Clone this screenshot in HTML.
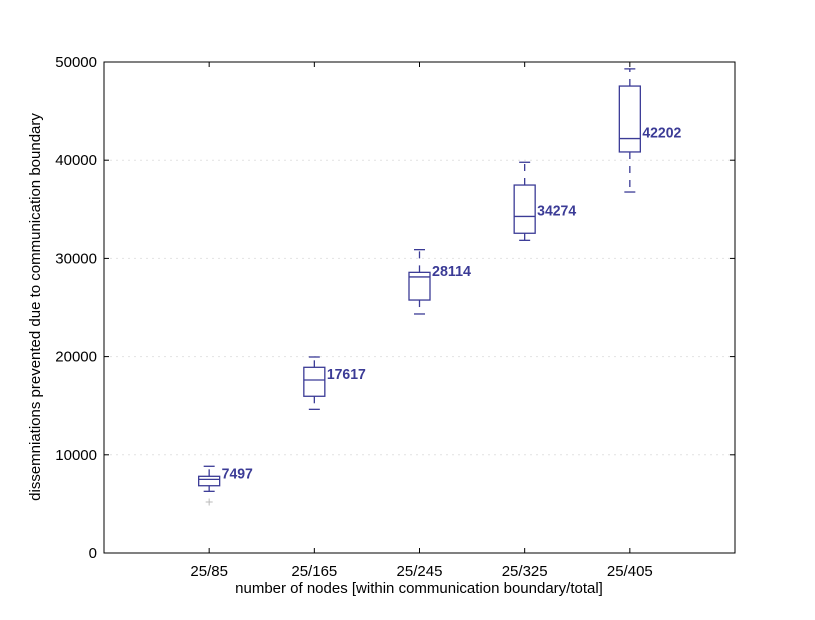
<!DOCTYPE html>
<html><head><meta charset="utf-8"><style>
body{margin:0;background:#fff}
svg text{font-family:"Liberation Sans",sans-serif}
</style></head><body>
<svg id="chart" width="815" height="615" xmlns="http://www.w3.org/2000/svg">
<rect width="815" height="615" fill="#fff"/>
<g id="grid"></g>
<g id="marks"></g>
<rect x="104" y="62" width="631" height="491" fill="none" stroke="#000" stroke-width="1"/>
<g id="axes"></g>
<text x="419" y="593" font-size="15" text-anchor="middle">number of nodes [within communication boundary/total]</text>
<text transform="translate(40,307) rotate(-90)" font-size="15" text-anchor="middle">dissemniations prevented due to communication boundary</text>
</svg>
<script>
const categories=["25/85","25/165","25/245","25/325","25/405"];
const whiskerLow=[6280,14630,24340,31840,36760];
const q1=[6850,15960,25760,32560,40840];
const medians=[7497,17617,28114,34274,42202];
const q3=[7810,18910,28580,37470,47550];
const whiskerHigh=[8830,19960,30890,39790,49300];
const fliers=[[5190],[],[],[],[]];
const yTicks=[0,10000,20000,30000,40000,50000];

const L=104,R=735,T=62,B=553,ymax=50000;
const C="#3b3b96";
const NS="http://www.w3.org/2000/svg";
function y(v){return B-(v/ymax)*(B-T);}
function x(i){return L+(R-L)/(categories.length+1)*(i+1);}
function mk(tag,attrs,parent){const e=document.createElementNS(NS,tag);for(const k in attrs)e.setAttribute(k,attrs[k]);document.getElementById(parent).appendChild(e);return e;}

yTicks.forEach(t=>{
  if(t>0&&t<ymax){
    const g=mk('line',{x1:L,x2:R,y1:y(t),y2:y(t),stroke:'#e2e2e2','stroke-dasharray':'2,4'},'grid');
    
    
  }
  const a=mk('line',{x1:L,x2:L+5,y1:y(t),y2:y(t),stroke:'#000'},'axes');
  
  
  const b=mk('line',{x1:R-5,x2:R,y1:y(t),y2:y(t),stroke:'#000'},'axes');
  
  
  const tx=mk('text',{x:L-7,y:y(t)+5,'font-size':15,'text-anchor':'end'},'axes');
  tx.textContent=t;
  
  
});
categories.forEach((c,i)=>{
  const cx=x(i);
  const a=mk('line',{x1:cx,x2:cx,y1:B,y2:B-5,stroke:'#000'},'axes');
  
  
  const b=mk('line',{x1:cx,x2:cx,y1:T,y2:T+5,stroke:'#000'},'axes');
  
  
  const tx=mk('text',{x:cx,y:B+23,'font-size':15,'text-anchor':'middle'},'axes');
  tx.textContent=c;
  
  

  const hw=10.5;
  const box=mk('rect',{x:cx-hw,y:y(q3[i]),width:2*hw,height:y(q1[i])-y(q3[i]),fill:'none',stroke:C,'stroke-width':1.3},'marks');
  
  
  const m=mk('line',{x1:cx-hw,x2:cx+hw,y1:y(medians[i]),y2:y(medians[i]),stroke:C,'stroke-width':1.3},'marks');
  
  
  const w1=mk('line',{x1:cx,x2:cx,y1:y(q3[i]),y2:y(whiskerHigh[i]),stroke:C,'stroke-width':1.3,'stroke-dasharray':'7,7'},'marks');
  
  
  const w2=mk('line',{x1:cx,x2:cx,y1:y(q1[i]),y2:y(whiskerLow[i]),stroke:C,'stroke-width':1.3,'stroke-dasharray':'7,7'},'marks');
  
  
  [whiskerHigh[i],whiskerLow[i]].forEach(v=>{
    const cap=mk('line',{x1:cx-5.5,x2:cx+5.5,y1:y(v),y2:y(v),stroke:C,'stroke-width':1.3},'marks');
    
    
  });
  fliers[i].forEach(v=>{
    const f=mk('path',{d:`M${cx-3.5},${y(v)}h7M${cx},${y(v)-3.5}v7`,stroke:'#bbb','stroke-width':1},'marks');
    
    
  });
  const s=String(medians[i]);
  const lab=mk('text',{x:cx+hw+2,y:y(medians[i])-1,'font-size':15,'font-weight':'bold',fill:C,textLength:s.length*7.8,lengthAdjust:'spacingAndGlyphs'},'marks');
  lab.textContent=s;
  
  
});
</script>
</body></html>
